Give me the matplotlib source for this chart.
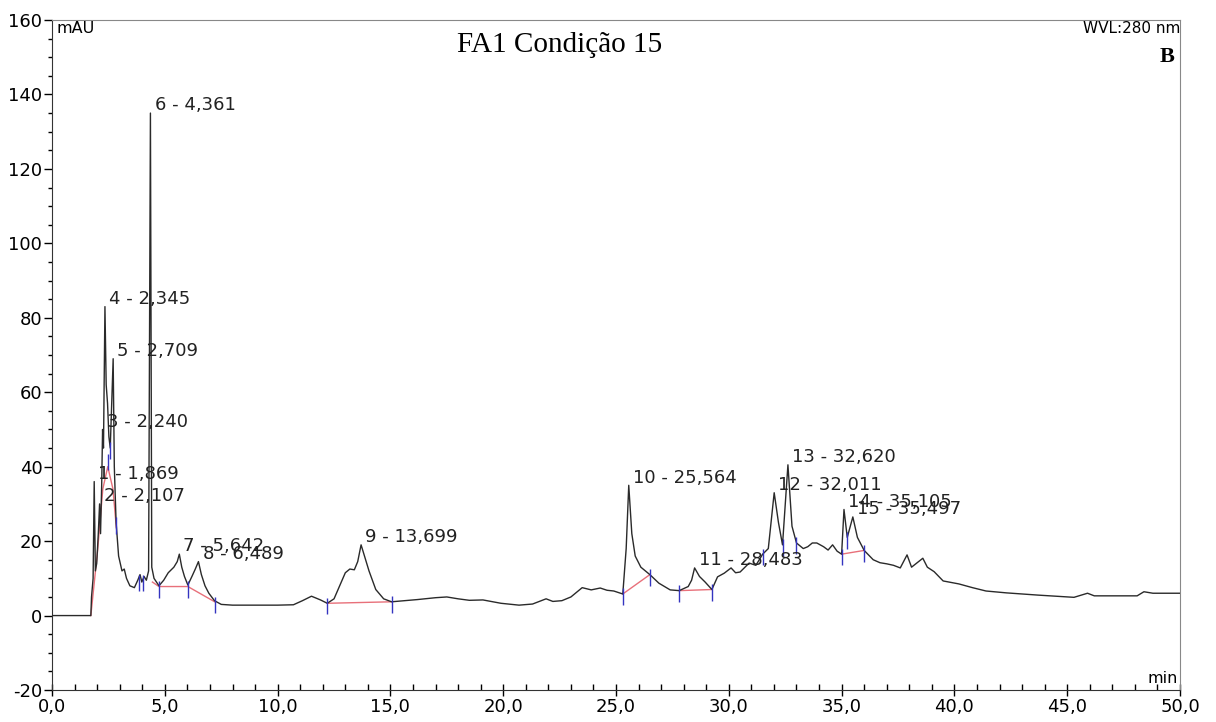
import numpy as np
import matplotlib
matplotlib.use('Agg')
import matplotlib.pyplot as plt
from matplotlib.ticker import MultipleLocator, FuncFormatter

# chromatogram trace (min, mAU)
time_min = [0.0, 1.72, 1.75, 1.82, 1.869, 1.92, 1.98, 2.05, 2.107, 2.15, 2.20, 2.240, 2.28, 2.345,
            2.40, 2.46, 2.52, 2.58, 2.709, 2.76, 2.84, 2.95, 3.10, 3.20, 3.30, 3.45, 3.65, 3.80,
            3.90, 3.98, 4.08, 4.18, 4.28, 4.361, 4.42, 4.52, 4.74, 4.95, 5.15, 5.40, 5.55, 5.642,
            5.75, 5.87, 6.02, 6.20, 6.35, 6.489, 6.62, 6.78, 6.95, 7.20, 7.50, 8.0, 9.0, 10.0,
            10.7, 11.1, 11.5, 11.9, 12.2, 12.5, 12.75, 13.0, 13.2, 13.4, 13.55, 13.699, 13.85,
            14.05, 14.35, 14.7, 15.05, 15.6, 16.2, 17.0, 17.5, 18.0, 18.5, 19.1, 19.9, 20.7,
            21.3, 21.9, 22.2, 22.6, 23.0, 23.3, 23.5, 23.9, 24.3, 24.6, 24.9, 25.3, 25.45,
            25.564, 25.7, 25.85, 26.1, 26.5, 26.9, 27.4, 27.8, 28.2, 28.35, 28.483, 28.7, 28.95,
            29.25, 29.5, 29.8, 30.1, 30.3, 30.5, 30.9, 31.2, 31.5, 31.75, 32.011, 32.2, 32.38,
            32.620, 32.8, 33.0, 33.3, 33.5, 33.7, 33.9, 34.2, 34.4, 34.6, 34.8, 35.0, 35.105,
            35.25, 35.497, 35.7, 36.0, 36.4, 36.7, 37.0, 37.3, 37.6, 37.9, 38.1, 38.6, 38.8,
            39.1, 39.5, 40.2, 40.8, 41.4, 42.3, 43.0, 43.7, 44.5, 45.3, 45.9, 46.2, 47.0, 48.1,
            48.4, 48.8, 50.0]
signal_mau = [0.0, 0.0, 5, 10, 36, 12, 14, 22, 30, 22, 35, 50, 45, 83,
              62, 57, 48, 45, 69, 40, 25, 16, 12, 12.5, 10, 8, 7.5, 9.5,
              11, 9, 10.5, 9.5, 12, 135, 13, 10, 8, 9.5, 11.5, 13, 14.5, 16.5,
              13, 10.5, 8.2, 10.5, 12.5, 14.5, 11, 8, 6, 4, 3, 2.8, 2.8, 2.8,
              2.9, 4.0, 5.2, 4.2, 3.3, 4.5, 8, 11.5, 12.5, 12.3, 14.5, 19, 16,
              12, 7, 4.5, 3.7, 4.0, 4.3, 4.8, 5.0, 4.5, 4.1, 4.2, 3.3, 2.8,
              3.1, 4.5, 3.8, 4.0, 5.0, 6.5, 7.5, 6.9, 7.4, 6.8, 6.6, 5.8, 18,
              35, 22, 16, 13, 11, 8.7, 6.9, 6.7, 7.8, 9.5, 12.8, 10.5, 9,
              7.0, 10.4, 11.4, 12.8, 11.5, 11.7, 14.1, 13.5, 16.5, 18, 33, 25, 19,
              40.5, 24, 19.5, 18.0, 18.5, 19.5, 19.5, 18.5, 17.6, 19, 17.3, 16.5, 28.5,
              21, 26.5, 21, 17.5, 15, 14.2, 13.9, 13.5, 12.8, 16.3, 13, 15.4, 13,
              11.8, 9.3, 8.5, 7.5, 6.6, 6.1, 5.8, 5.5, 5.2, 4.9, 6.0, 5.3, 5.3, 5.3,
              6.4, 6.0, 6.0]

# integrated peaks
peak_no = list(range(1, 16))
peak_rt = [1.869, 2.107, 2.240, 2.345, 2.709, 4.361, 5.642, 6.489, 13.699,
           25.564, 28.483, 32.011, 32.620, 35.105, 35.497]

# baselines drawn under the peaks (red)
base_segments = [
    ([1.72, 2.02, 2.25, 2.47, 2.70, 2.85], [0.0, 17.5, 34, 40, 34, 23.6]),
    ([4.45, 4.74, 6.02, 7.24], [9, 7.8, 7.8, 3.6]),
    ([12.2, 15.05], [3.3, 3.7]),
    ([25.3, 26.5], [5.8, 11]),
    ([27.8, 29.25], [6.7, 7.0]),
    ([35.0, 36.0], [16.5, 17.5]),
]
# peak start/end markers (blue)
mark_t = [2.47, 2.58, 2.84, 3.85, 4.05, 4.74, 6.02, 7.24, 12.2, 15.05, 25.3, 26.5,
          27.8, 29.25, 31.5, 32.38, 33.0, 35.0, 35.25, 36.0]
mark_y = [42, 45, 25, 9.5, 9.5, 7.8, 7.8, 3.6, 3.3, 3.7, 5.8, 11,
          6.7, 7.0, 16.5, 19, 19.5, 16.5, 21, 17.5]

if __name__ == "__main__":

  fig = plt.figure(figsize=(12.16, 7.22), dpi=100)
  ax = fig.add_axes([0.0428, 0.0443, 0.9276, 0.928])

  for bx, by in base_segments:
    ax.plot(bx, by, color="#e8707a", lw=1.0, zorder=2)

  ax.plot(time_min, signal_mau, color="#2a2a2a", lw=1.0, zorder=3)

  ax.vlines(mark_t, np.array(mark_y) - 3, np.array(mark_y) + 1.5, color="#3434c0", lw=1.0, zorder=4)

  peak_h = np.interp(peak_rt, time_min, signal_mau)
  for n, rt, h in zip(peak_no, peak_rt, peak_h):
    lbl = "{0} - {1:.3f}".format(n, rt).replace(".", ",")
    ax.annotate(lbl, (rt, h), xytext=(3, 2), textcoords="offset points",
                ha="left", va="baseline", fontsize=13, color="#222222", zorder=5)

  ax.set_xlim(0, 50)
  ax.set_ylim(-20, 160)
  ax.xaxis.set_major_locator(MultipleLocator(5))
  ax.xaxis.set_minor_locator(MultipleLocator(1))
  ax.yaxis.set_major_locator(MultipleLocator(20))
  ax.yaxis.set_minor_locator(MultipleLocator(5))
  ax.xaxis.set_major_formatter(FuncFormatter(lambda v, p: "{0:.1f}".format(v).replace(".", ",")))
  ax.yaxis.set_major_formatter(FuncFormatter(lambda v, p: "{0:.0f}".format(v)))
  ax.tick_params(axis="x", which="major", direction="inout", length=8, width=1, labelsize=13, pad=2)
  ax.tick_params(axis="x", which="minor", direction="in", length=4, width=1)
  ax.tick_params(axis="y", which="major", direction="out", length=6, width=1, labelsize=13, pad=1)
  ax.tick_params(axis="y", which="minor", direction="out", length=3, width=1)

  for s in ["left", "bottom"]:
    ax.spines[s].set_color("#333333")
  for s in ["top", "right"]:
    ax.spines[s].set_color("#888888")

  ax.text(0.004, 0.998, "mAU", transform=ax.transAxes, ha="left", va="top", fontsize=11.5)
  ax.text(1.0, 0.998, "WVL:280 nm", transform=ax.transAxes, ha="right", va="top", fontsize=11)
  ax.text(0.995, 0.945, "B", transform=ax.transAxes, ha="right", va="center",
          fontsize=16, fontweight="bold", family="Liberation Serif")
  ax.text(0.998, 0.006, "min", transform=ax.transAxes, ha="right", va="bottom", fontsize=11.5)
  ax.text(0.45, 0.963, "FA1 Condição 15", transform=ax.transAxes, ha="center", va="center",
          fontsize=21, family="Liberation Serif")

  plt.savefig("out.png", dpi=100)
